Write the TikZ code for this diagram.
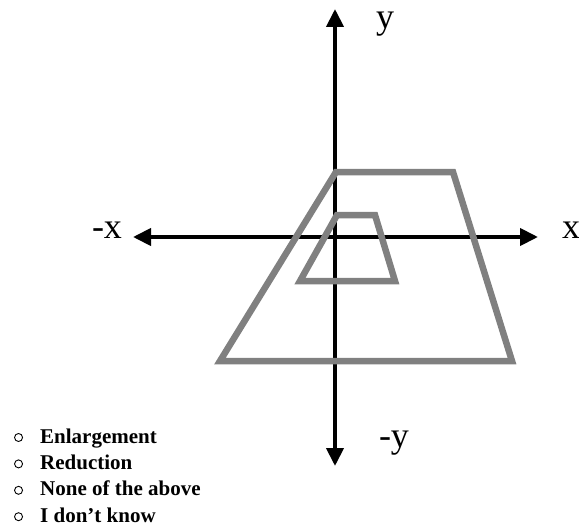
\documentclass[tikz,border=0pt]{standalone}
\usepackage{fontspec}
\setmainfont{Liberation Serif}
\usetikzlibrary{arrows.meta,positioning}

\begin{document}
\begin{tikzpicture}[x=1pt, y=-1pt, >={Triangle[length=18pt, width=17pt]},
	axis/.style={<->, line width=4pt},
	shapeline/.style={draw=gray, line width=6.5pt, line join=miter},
	axislabel/.style={font=\fontsize{36}{36}\selectfont, inner sep=0pt},
	option/.style={font=\fontsize{21}{24}\selectfont\bfseries, inner sep=0pt, text height=15pt, text depth=4pt},
	bullet/.style={draw, circle, line width=0.9pt, minimum size=8pt, inner sep=0pt}]
	\useasboundingbox (0,0) rectangle (579,527);
	% axes
	\coordinate (xplus) at (538,237);
	\coordinate (xminus) at (133,237);
	\coordinate (yplus) at (335,9);
	\coordinate (yminus) at (335,466);
	\draw[axis] (xminus) -- (xplus);
	\draw[axis] (yminus) -- (yplus);
	\node[axislabel] (ylab) at (385,24) {y};
	\node[axislabel] (ymlab) at (394,443) {-y};
	\node[axislabel] (xlab) at (571,230) {x};
	\node[axislabel] (xmlab) at (107,230) {-x};
	% the two trapezoids
	\draw[shapeline] (336,172) -- (453,172) -- (512,361) -- (220,361) -- cycle;
	\draw[shapeline] (337,215) -- (375,215) -- (395,281) -- (300,281) -- cycle;
	% answers
	\node[option, anchor=base west] (enlarge) at (40,443) {Enlargement};
	\node[option, below=7pt of enlarge.south west, anchor=north west] (reduce) {Reduction};
	\node[option, below=7pt of reduce.south west, anchor=north west] (none) {None of the above};
	\node[option, below=7pt of none.south west, anchor=north west] (dunno) {I don’t know};
	\node[bullet, left=17pt of enlarge.west] (b1) {};
	\node[bullet, left=17pt of reduce.west] (b2) {};
	\node[bullet, left=17pt of none.west] (b3) {};
	\node[bullet, left=17pt of dunno.west] (b4) {};
\end{tikzpicture}
\end{document}
